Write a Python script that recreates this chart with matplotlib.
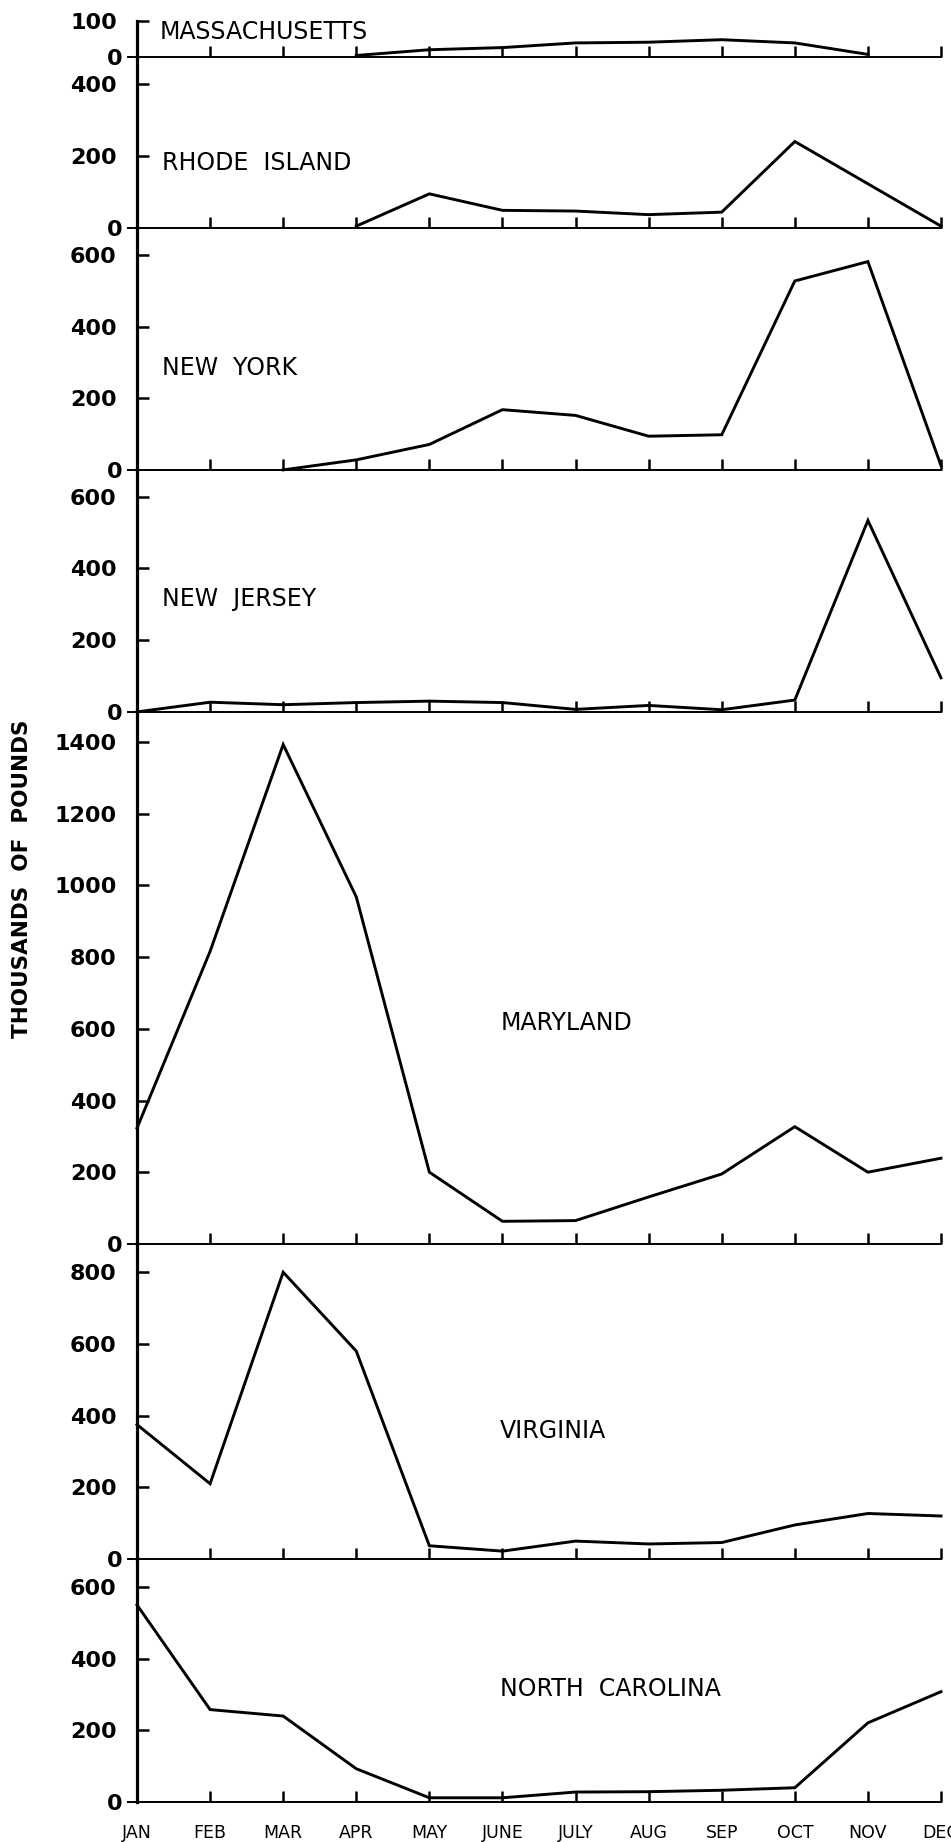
import numpy as np
import matplotlib
matplotlib.use("Agg")
import matplotlib.pyplot as plt

# Monthly landings, thousands of pounds (NaN = no landings plotted)
months = ["JAN", "FEB", "MAR", "APR", "MAY", "JUNE", "JULY", "AUG", "SEP", "OCT", "NOV", "DEC"]

massachusetts = [np.nan, np.nan, np.nan, 3, 19, 25, 38, 40, 47, 38, 6, np.nan]
rhode_island = [np.nan, np.nan, np.nan, 4, 94, 48, 46, 36, 43, 240, 122, 4]
new_york = [np.nan, np.nan, 0, 28, 71, 168, 152, 94, 98, 527, 581, 12]
new_jersey = [0, 27, 20, 26, 30, 26, 7, 18, 6, 33, 534, 95]
maryland = [323, 816, 1393, 968, 200, 63, 65, 131, 195, 327, 200, 239]
virginia = [375, 210, 800, 580, 37, 22, 50, 42, 46, 95, 127, 120]
north_carolina = [550, 258, 240, 93, 12, 12, 28, 29, 33, 40, 221, 308]

states = ["MASSACHUSETTS", "RHODE  ISLAND", "NEW  YORK", "NEW  JERSEY",
          "MARYLAND", "VIRGINIA", "NORTH  CAROLINA"]
series = [massachusetts, rhode_island, new_york, new_jersey,
          maryland, virginia, north_carolina]
y_tops = [100, 477, 676, 675, 1484, 879, 678]
y_ticks = [[100], [200, 400], [200, 400, 600], [200, 400, 600],
           [200, 400, 600, 800, 1000, 1200, 1400], [200, 400, 600, 800],
           [200, 400, 600]]
# label anchor (month index, value) for each state name
label_pos = [(0.31, 69), (0.34, 180), (0.34, 285), (0.34, 315),
             (4.97, 616), (4.97, 357), (4.97, 315)]

W, H = 951, 1842
fig = plt.figure(figsize=(W / 100, H / 100), dpi=100)
fig.patch.set_facecolor("white")

left_px, right_px = 137, 941
top_px = 20.7
px_per_unit = 0.3585

num_font = dict(family="DejaVu Sans", weight="bold", size=16)
x = np.arange(len(months))

cur = top_px
for i, (name, vals, ytop, ticks, (lx, ly)) in enumerate(
        zip(states, series, y_tops, y_ticks, label_pos)):
    h = ytop * px_per_unit
    ax = fig.add_axes([left_px / W, 1 - (cur + h) / H,
                       (right_px - left_px) / W, h / H])
    cur += h
    ax.set_xlim(0, 11)
    ax.set_ylim(0, ytop)
    ax.patch.set_alpha(0)

    ax.plot(x, np.array(vals, dtype=float), color="black", lw=2.1,
            clip_on=False, solid_joinstyle="miter")

    for s in ("top", "right"):
        ax.spines[s].set_visible(False)
    ax.spines["left"].set_linewidth(2.3)
    ax.spines["bottom"].set_linewidth(1.4)

    ax.set_xticks(x)
    ax.tick_params(axis="x", direction="in", length=8, width=1.8,
                   pad=16, labelsize=12.5)
    if i == len(states) - 1:
        ax.set_xticklabels(months)
    else:
        ax.set_xticklabels([])

    ax.set_yticks(ticks)
    ax.set_yticklabels([str(t) for t in ticks])
    ax.set_yticks([0], labels=["0"], minor=True)
    ax.tick_params(axis="y", which="major", direction="in", length=8.5,
                   width=1.8, pad=14.5)
    ax.tick_params(axis="y", which="minor", direction="out", length=7,
                   width=1.4, pad=3.5)
    for lab in ax.get_yticklabels(which="both"):
        lab.set_fontproperties(num_font)

    ax.text(lx, ly, name, ha="left", va="center", fontsize=17,
            family="DejaVu Sans", color="black")

fig.text(0.0231, 1 - 879 / H, "THOUSANDS  OF  POUNDS", rotation=90,
         ha="center", va="center", fontsize=15.5, fontweight="bold",
         family="DejaVu Sans")

fig.savefig("out.png", dpi=100, facecolor="white")
